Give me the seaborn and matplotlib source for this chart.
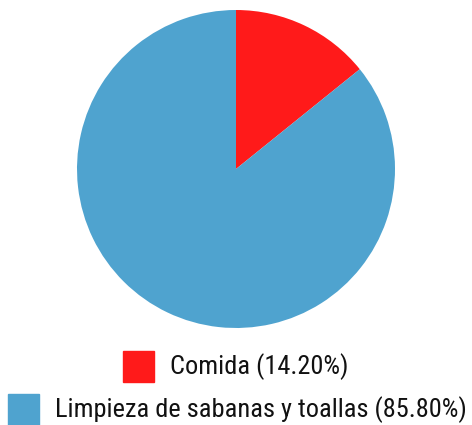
import seaborn as sns
import matplotlib.pyplot as plt
from matplotlib.patches import Rectangle

labels = ['Comida', 'Limpieza de sabanas y toallas']
values = [14.20, 85.80]
colors = ['#FF1A1A', '#4FA3CF']

sns.set_style('white')
plt.rcParams['font.family'] = ['Liberation Sans Narrow', 'Roboto Condensed', 'DejaVu Sans']

W, H = 472, 425
fig = plt.figure(figsize=(W / 100, H / 100), dpi=100)
ax = fig.add_axes([77 / W, (H - 328) / H, 318 / W, 318 / H])
ax.pie(values, colors=colors, startangle=90, counterclock=False,
       wedgeprops={'linewidth': 0})
ax.set_xlim(-1, 1)
ax.set_ylim(-1, 1)
ax.set_aspect('equal')
ax.axis('off')

# legend rows, each centred on its own
rows = [(123, 170, 366.5), (8, 55, 409.5)]
for (sx, tx, cy), lab, val, col in zip(rows, labels, values, colors):
    fig.patches.append(Rectangle((sx / W, (H - cy - 15.5) / H), 31 / W, 31 / H,
                                 transform=fig.transFigure, color=col))
    fig.text(tx / W, (H - cy) / H, f'{lab} ({val:.2f}%)', fontsize=19,
             va='center', ha='left', color='#111111')

fig.savefig('out.png', dpi=100)
